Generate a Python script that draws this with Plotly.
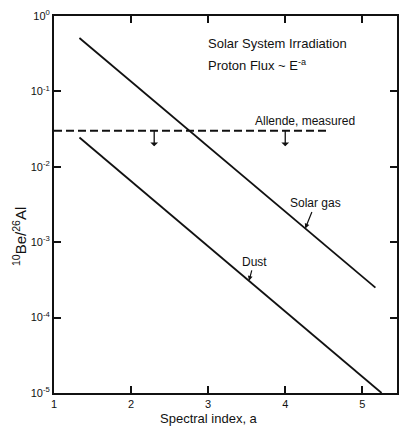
import numpy as np
import plotly.graph_objects as go

# Spectral index endpoints and the 10Be/26Al ratio for each irradiation model
alpha_solar_gas = [1.33, 5.17]
ratio_solar_gas = [0.51, 2.5e-4]

alpha_dust = [1.33, 5.25]
ratio_dust = [0.0245, 1.0e-5]

# Measured Allende ratio (upper bound) and where its down-arrows sit
alpha_allende = [1.0, 4.55]
ratio_allende = [0.030, 0.030]
allende_arrow_alpha = [2.3, 4.0]

# Axis ticks
x_ticks = [1, 2, 3, 4, 5]
y_ticks = [1e-5, 1e-4, 1e-3, 1e-2, 1e-1, 1e0]
y_ticktext = ["10<sup>-5</sup>", "10<sup>-4</sup>", "10<sup>-3</sup>",
              "10<sup>-2</sup>", "10<sup>-1</sup>", "10<sup>0</sup>"]

FONT = "Liberation Sans"
INK = "#111111"


def log_ratio_at(alpha, xs, ys):
    """log10 of a model ratio at a given spectral index (straight line in log space)."""
    return float(np.interp(alpha, xs, np.log10(ys)))


fig = go.Figure()

fig.add_trace(go.Scatter(x=alpha_solar_gas, y=ratio_solar_gas, mode="lines",
                         line=dict(color=INK, width=1.8), showlegend=False))
fig.add_trace(go.Scatter(x=alpha_dust, y=ratio_dust, mode="lines",
                         line=dict(color=INK, width=1.8), showlegend=False))
fig.add_trace(go.Scatter(x=alpha_allende, y=ratio_allende, mode="lines",
                         line=dict(color=INK, width=2, dash="8px,4px"),
                         showlegend=False))

annotations = []

# Down-arrows marking the Allende value as an upper limit
for a in allende_arrow_alpha:
    annotations.append(dict(
        x=a, y=np.log10(ratio_allende[0]), xref="x", yref="y",
        text="", showarrow=True, ax=0, ay=17, arrowside="start",
        arrowhead=2, arrowsize=1, arrowwidth=1.3, arrowcolor=INK))

annotations.append(dict(
    x=4.25, y=np.log10(ratio_allende[0]), xref="x", yref="y",
    text="Allende, measured", showarrow=False, yanchor="bottom", yshift=1,
    font=dict(family=FONT, size=12, color=INK)))

# Curve labels with leader arrows
a_sg = 4.26
annotations.append(dict(
    x=a_sg, y=log_ratio_at(a_sg, alpha_solar_gas, ratio_solar_gas),
    xref="x", yref="y", text="Solar gas", showarrow=True,
    ax=10, ay=-25, arrowhead=2, arrowsize=0.8, arrowwidth=1.2,
    arrowcolor=INK, font=dict(family=FONT, size=12, color=INK)))

a_d = 3.53
annotations.append(dict(
    x=a_d, y=log_ratio_at(a_d, alpha_dust, ratio_dust),
    xref="x", yref="y", text="Dust", showarrow=True,
    ax=5, ay=-19, arrowhead=2, arrowsize=0.8, arrowwidth=1.2,
    arrowcolor=INK, font=dict(family=FONT, size=12, color=INK)))

# Heading inside the frame
annotations.append(dict(
    x=0.443, y=0.928, xref="paper", yref="paper", xanchor="left",
    yanchor="middle", text="Solar System Irradiation", showarrow=False,
    font=dict(family=FONT, size=13, color=INK)))
annotations.append(dict(
    x=0.443, y=0.870, xref="paper", yref="paper", xanchor="left",
    yanchor="middle", text="Proton Flux ~ E<sup>-a</sup>", showarrow=False,
    font=dict(family=FONT, size=13, color=INK)))

# Axis titles
annotations.append(dict(
    x=-0.099, y=0.414, xref="paper", yref="paper", textangle=-90,
    xanchor="center", yanchor="middle",
    text="<sup>10</sup>Be/<sup>26</sup>Al", showarrow=False,
    font=dict(family=FONT, size=15, color=INK)))
annotations.append(dict(
    x=0.452, y=-0.068, xref="paper", yref="paper", xanchor="center",
    yanchor="middle", text="Spectral index, a", showarrow=False,
    font=dict(family=FONT, size=13, color=INK)))

axis_common = dict(showline=True, linewidth=2, linecolor=INK, mirror="ticks",
                   ticks="inside", ticklen=7, tickwidth=1.5, tickcolor=INK,
                   showgrid=False, zeroline=False,
                   tickfont=dict(family=FONT, size=11, color=INK))

fig.update_layout(
    width=402, height=427,
    margin=dict(l=54, r=3, t=16, b=34),
    paper_bgcolor="white", plot_bgcolor="white",
    xaxis=dict(range=[1, 5.45], tickvals=x_ticks, **axis_common),
    yaxis=dict(type="log", range=[-5, 0], tickvals=y_ticks,
               ticktext=y_ticktext, **axis_common),
    annotations=annotations,
    showlegend=False,
)

fig.write_html("out.html")
